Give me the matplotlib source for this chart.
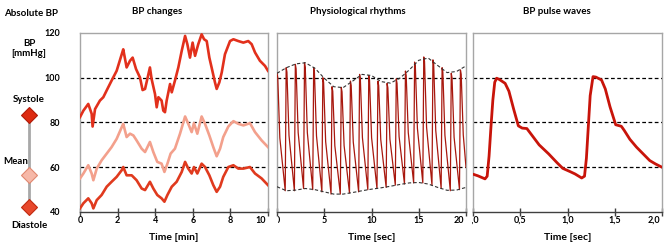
import matplotlib
matplotlib.use("Agg")
import matplotlib.pyplot as plt
from matplotlib.lines import Line2D
from matplotlib.transforms import Bbox, TransformedBbox, blended_transform_factory, offset_copy

# ---------------- data ----------------
# Panel 1: BP changes over 10 min
sys_t = [0.0, 0.18, 0.44, 0.62, 0.67, 0.8, 1.06, 1.24, 1.5, 1.68, 1.95, 2.22, 2.3, 2.48, 2.66, 2.8,
         2.98, 3.19, 3.33, 3.46, 3.58, 3.72, 3.81, 3.99, 4.08, 4.17, 4.34, 4.43, 4.52, 4.61, 4.79,
         4.88, 5.05, 5.23, 5.41, 5.59, 5.71, 5.85, 5.99, 6.12, 6.29, 6.47, 6.6, 6.74, 6.88, 7.0,
         7.18, 7.27, 7.41, 7.54, 7.71, 7.98, 8.16, 8.42, 8.69, 8.95, 9.13, 9.31, 9.57, 9.84, 10.0]
sys_v = [82.4, 85.3, 88.3, 83.9, 78.2, 86.0, 89.8, 91.3, 95.7, 98.7, 103.1, 110.5, 112.7, 104.6, 107.6,
         109.0, 103.9, 100.1, 94.5, 95.0, 99.4, 104.6, 99.4, 92.7, 86.8, 91.3, 89.8, 85.3, 84.6, 89.8,
         97.2, 93.5, 98.7, 104.6, 112.0, 118.7, 115.0, 109.0, 115.7, 109.8, 115.0, 119.4, 117.2, 116.4,
         109.0, 104.6, 97.9, 95.0, 97.9, 102.4, 110.5, 116.4, 117.2, 116.4, 115.7, 116.4, 115.0, 111.3,
         107.6, 105.3, 103.1]

mean_t = [0.0, 0.18, 0.44, 0.62, 0.71, 0.89, 1.15, 1.42, 1.68, 1.95, 2.22, 2.3, 2.48, 2.66, 2.84,
          3.01, 3.28, 3.46, 3.72, 3.9, 4.11, 4.34, 4.49, 4.65, 4.82, 5.05, 5.32, 5.59, 5.76, 5.94,
          6.06, 6.24, 6.47, 6.65, 6.88, 7.09, 7.27, 7.45, 7.62, 7.89, 8.16, 8.42, 8.69, 9.04, 9.31,
          9.66, 10.0]
mean_v = [55.0, 57.2, 60.9, 57.2, 54.2, 59.4, 63.1, 66.1, 69.0, 72.7, 77.9, 79.4, 73.5, 75.0, 74.2,
          72.0, 68.3, 66.8, 71.3, 66.8, 62.4, 61.6, 57.9, 61.6, 66.1, 68.3, 75.0, 82.7, 79.4, 75.7,
          79.7, 75.0, 82.7, 79.4, 74.2, 69.0, 64.9, 68.3, 73.5, 78.2, 80.6, 79.4, 78.7, 79.7, 75.7,
          72.0, 69.0]

dia_t = [0.0, 0.18, 0.44, 0.62, 0.71, 0.89, 1.15, 1.42, 1.68, 1.95, 2.22, 2.3, 2.48, 2.75, 3.01,
         3.28, 3.46, 3.72, 3.9, 4.11, 4.34, 4.49, 4.65, 4.88, 5.14, 5.41, 5.59, 5.76, 5.94, 6.06,
         6.24, 6.47, 6.65, 6.88, 7.09, 7.27, 7.45, 7.62, 7.89, 8.16, 8.42, 8.69, 9.04, 9.31, 9.66, 10.0]
dia_v = [41.6, 43.9, 46.1, 43.9, 41.6, 45.3, 47.6, 51.3, 53.5, 55.7, 58.7, 60.1, 56.4, 56.4, 54.2,
         50.5, 49.8, 53.5, 50.5, 47.6, 46.1, 44.6, 47.6, 51.3, 53.5, 57.9, 62.4, 59.4, 57.2, 60.1,
         57.2, 61.6, 60.1, 56.4, 52.0, 49.0, 51.3, 55.7, 60.1, 60.9, 59.4, 59.4, 60.1, 57.2, 55.0, 52.0]

# Panel 2: physiological rhythms (beats over 20 s)
peak_t = [0.0, 0.97, 1.94, 2.91, 3.88, 4.85, 5.82, 6.8, 7.77, 8.74, 9.71, 10.68, 11.65, 12.62,
          13.59, 14.56, 15.53, 16.5, 17.47, 18.44, 19.41]
peak_v = [102.0, 104.5, 106.0, 106.7, 104.5, 100.0, 96.0, 95.7, 98.5, 101.5, 101.0, 98.5, 97.5,
          99.5, 103.0, 107.0, 109.3, 108.0, 104.5, 102.0, 103.5]
notch_v = [73.1, 74.2, 75.5, 75.5, 74.0, 71.4, 69.6, 69.7, 71.3, 73.2, 73.2, 72.4, 72.5, 73.7,
           75.5, 77.3, 77.8, 76.4, 74.3, 73.4, 74.5]
trough_v = [49.5, 49.5, 50.5, 50.0, 49.0, 48.0, 48.0, 48.5, 49.0, 50.0, 50.5, 51.0, 52.0, 52.5,
            53.0, 53.0, 52.0, 50.5, 49.5, 50.0]
end_v = 60.0

env_t = [0, 1, 2, 3, 4, 5, 6, 7, 8, 9, 10, 11, 12, 13, 14, 15, 16, 17, 18, 19, 20]
env_top = [102.0, 104.5, 106.2, 106.7, 104.3, 99.8, 96.0, 95.6, 98.5, 101.5, 101.0, 98.3, 97.6,
           99.8, 103.5, 107.8, 108.8, 105.5, 102.3, 102.8, 105.3]
env_bot = [51.3, 49.5, 49.8, 50.5, 50.0, 49.0, 48.0, 48.0, 48.7, 49.5, 50.2, 50.8, 51.5, 52.3,
           53.0, 53.2, 52.5, 51.0, 49.7, 49.8, 51.0]

# Panel 3: BP pulse waves (2 s)
pw_t = [0.0, 0.05, 0.10, 0.127, 0.15, 0.17, 0.19, 0.21, 0.23, 0.25, 0.28, 0.34, 0.38, 0.43, 0.48,
        0.52, 0.57, 0.62, 0.70, 0.80, 0.89, 0.95, 1.03, 1.08, 1.15, 1.18, 1.20, 1.22, 1.24, 1.27,
        1.30, 1.36, 1.40, 1.45, 1.51, 1.57, 1.60, 1.66, 1.73, 1.80, 1.87, 1.93, 2.0]
pw_v = [56.9, 56.2, 55.3, 54.8, 56.0, 65.0, 78.0, 90.0, 98.0, 99.8, 99.2, 97.5, 94.0, 86.0, 78.5,
        77.5, 77.3, 74.5, 70.0, 66.0, 62.0, 59.5, 58.0, 57.0, 55.2, 56.0, 64.0, 78.0, 92.0, 100.5,
        100.3, 99.0, 95.0, 87.0, 79.0, 78.3, 76.5, 72.5, 69.0, 66.0, 63.0, 61.5, 60.0]

ref_levels = [60, 80, 100]
yticks = [40, 60, 80, 100, 120]
x1_ticks = [0, 2, 4, 6, 8, 10]
x1_labels = ["0", "2", "4", "6", "8", "10"]
x2_ticks = [0, 5, 10, 15, 20]
x2_labels = ["0", "5", "10", "15", "20"]
x3_ticks = [0.0, 0.5, 1.0, 1.5, 2.0]
x3_labels = ["0,0", "0,5", "1,0", "1,5", "2,0"]

# ---------------- style ----------------
W, H = 669, 242
FONT = "Lato"
plt.rcParams["font.family"] = [FONT, "DejaVu Sans"]
plt.rcParams["font.weight"] = "bold"

C_SYS = "#e2301c"
C_MEAN = "#f3a08c"
C_DIA = "#e03a1e"
C_P2 = "#a8180e"
C_P3 = "#c8140a"
FRAME = "#a6a6a6"
TICKFS = 6.5

fig = plt.figure(figsize=(W / 100, H / 100), dpi=100)


def px_ax(l, r, t, b):
    return fig.add_axes([l / W, 1 - b / H, (r - l) / W, (b - t) / H])


ax1 = px_ax(80, 268, 33, 212)
ax2 = px_ax(277, 466, 33, 212)
ax3 = px_ax(473, 662, 33, 212)

for ax in (ax1, ax2, ax3):
    ax.set_ylim(40, 120)
    for s in ("left", "right", "top"):
        ax.spines[s].set_color(FRAME)
        ax.spines[s].set_linewidth(1.0)
    ax.spines["bottom"].set_color("#404040")
    ax.spines["bottom"].set_linewidth(1.0)
    ax.tick_params(axis="x", direction="inout", length=6, width=1.0, color="#404040",
                   labelbottom=False)
    ax.tick_params(axis="y", length=0)
    for lv in ref_levels:
        ax.axhline(lv, color="black", lw=0.9, ls=(0, (3, 2)), zorder=1)


def tick_labels(ax, ticks, labels, left_px, clip_first):
    tr = blended_transform_factory(ax.transData, ax.transAxes)
    n = len(ticks)
    for i, (tv, lab) in enumerate(zip(ticks, labels)):
        if i == n - 1:
            t = offset_copy(tr, fig=fig, x=-2, y=-4, units="dots")
            txt = ax.text(tv, 0, lab, transform=t, ha="right", va="top", fontsize=TICKFS,
                          fontweight="bold", clip_on=False)
        else:
            t = offset_copy(tr, fig=fig, x=0, y=-4, units="dots")
            txt = ax.text(tv, 0, lab, transform=t, ha="center", va="top", fontsize=TICKFS,
                          fontweight="bold", clip_on=False)
        if i == 0 and clip_first:
            txt.set_clip_box(TransformedBbox(Bbox([[left_px / W, 0], [1, 1]]), fig.transFigure))
            txt.set_clip_on(True)


# Panel 1
ax1.plot(sys_t, sys_v, color=C_SYS, lw=1.9, zorder=3)
ax1.plot(mean_t, mean_v, color=C_MEAN, lw=1.9, zorder=3)
ax1.plot(dia_t, dia_v, color=C_DIA, lw=1.9, zorder=3)
ax1.set_xlim(0, 10)
ax1.set_xticks(x1_ticks)
tick_labels(ax1, x1_ticks, x1_labels, 0, False)
ax1.set_yticks(yticks)
ax1.set_yticklabels([str(v) for v in yticks], fontsize=TICKFS, fontweight="bold")
ax1.tick_params(axis="y", pad=14)
ax1.set_xlabel("Time [min]", fontsize=7.5, fontweight="bold", labelpad=12)

# Panel 2 - build beat trace from read peaks/notches/troughs
bx, by = [], []
for i, (tp, pv) in enumerate(zip(peak_t, peak_v)):
    if i > 0:
        bx.append(tp - 0.1)
        by.append(trough_v[i - 1])
    bx += [tp, tp + 0.08, tp + 0.3]
    by += [pv, pv - 2.0, notch_v[i]]
bx.append(20.0)
by.append(end_v)
ax2.plot(bx, by, color=C_P2, lw=0.9, zorder=3)
ax2.plot(env_t, env_top, color="#333333", lw=0.8, ls=(0, (3, 2)), zorder=4)
ax2.plot(env_t, env_bot, color="#333333", lw=0.8, ls=(0, (3, 2)), zorder=4)
ax2.set_xlim(0, 20)
ax2.set_xticks(x2_ticks)
tick_labels(ax2, x2_ticks, x2_labels, 278, True)
ax2.set_yticks([])
ax2.set_xlabel("Time [sec]", fontsize=7.5, fontweight="bold", labelpad=12)

# Panel 3
ax3.plot(pw_t, pw_v, color=C_P3, lw=2.0, zorder=3, solid_capstyle="round")
ax3.set_xlim(0, 2.0)
ax3.set_xticks(x3_ticks)
tick_labels(ax3, x3_ticks, x3_labels, 471.5, True)
ax3.set_yticks([])
ax3.set_xlabel("Time [sec]", fontsize=7.5, fontweight="bold", labelpad=12)


# Titles
def ftext(x, y, s, **kw):
    fig.text(x / W, 1 - y / H, s, fontweight="bold", **kw)


ftext(157, 11, "BP changes", fontsize=7, ha="center", va="center")
ftext(358, 11, "Physiological rhythms", fontsize=7, ha="center", va="center")
ftext(557, 11, "BP pulse waves", fontsize=7, ha="center", va="center")

# Left legend column
ftext(4, 14, "Absolute BP", fontsize=7, ha="left", va="center")
ftext(29, 43, "BP", fontsize=7, ha="center", va="center")
ftext(29, 54, "[mmHg]", fontsize=7, ha="center", va="center")
ftext(29, 99, "Systole", fontsize=7, ha="center", va="center")
ftext(16, 162, "Mean", fontsize=7, ha="center", va="center")
ftext(29, 225, "Diastole", fontsize=7, ha="center", va="center")

fig.add_artist(Line2D([29 / W, 29 / W], [1 - 115 / H, 1 - 207 / H], color="#a8a8a8", lw=2.0,
                      transform=fig.transFigure, zorder=1))
for (yy, fc, ec) in [(115, "#dd2a10", "#b01a08"), (175, "#f6b8a8", "#e08870"),
                     (207, "#e8482c", "#c02a10")]:
    fig.add_artist(Line2D([29 / W], [1 - yy / H], marker="D", markersize=8.5,
                          markerfacecolor=fc, markeredgecolor=ec, markeredgewidth=0.8,
                          linestyle="none", transform=fig.transFigure, zorder=3))

fig.savefig("out.png", dpi=100)
